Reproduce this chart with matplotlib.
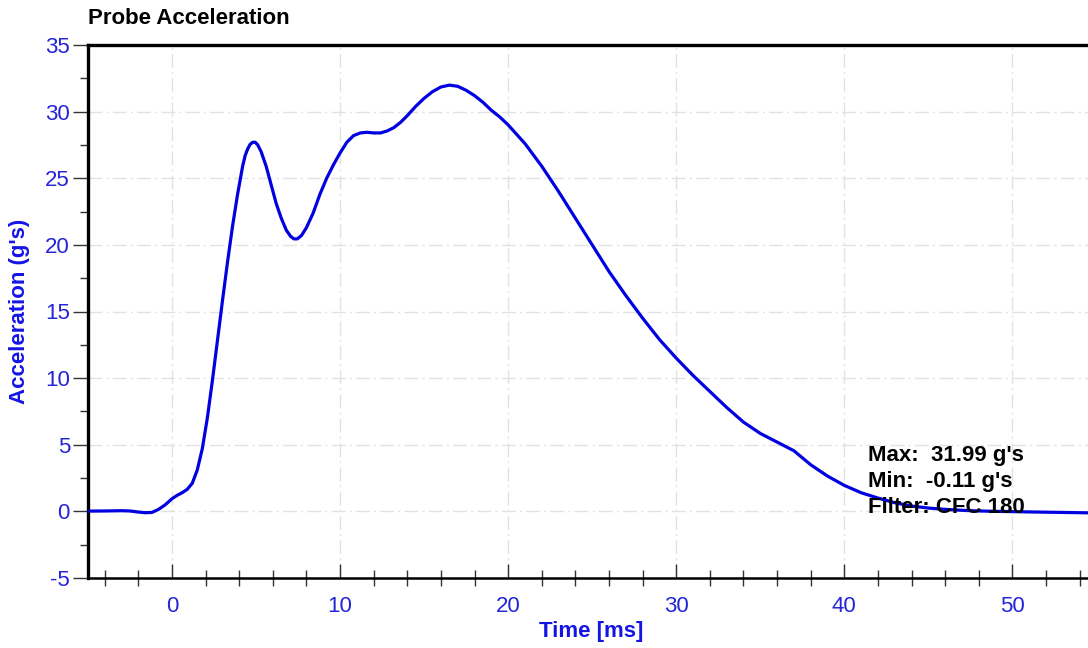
import matplotlib
matplotlib.use("Agg")
import matplotlib.pyplot as plt
from matplotlib.ticker import MultipleLocator

plt.rcParams['font.family'] = ['Liberation Sans', 'DejaVu Sans']
plt.rcParams['axes.unicode_minus'] = False

time_ms = [-5, -4, -3, -2.5, -2, -1.6, -1.2, -0.8, -0.4, 0, 0.3, 0.6, 0.9, 1.2, 1.5,
           1.8, 2.1, 2.4, 2.7, 3.0, 3.3, 3.6, 3.9, 4.2, 4.35, 4.5, 4.65, 4.8, 4.95,
           5.1, 5.3, 5.6, 5.9, 6.2, 6.5, 6.8, 7.05, 7.25, 7.45, 7.7, 8.0, 8.4, 8.8,
           9.2, 9.6, 10.0, 10.4, 10.8, 11.2, 11.6, 12.0, 12.4, 12.8, 13.2, 13.6,
           14.0, 14.5, 15.0, 15.5, 16.0, 16.5, 17.0, 17.5, 18.0, 18.5, 19.0, 19.5,
           20.0, 21, 22, 23, 24, 25, 26, 27, 28, 29, 30, 31, 32, 33, 34, 35, 36, 37,
           38, 39, 40, 41, 42, 43, 44, 45, 46, 47, 48, 50, 52, 54.5]
accel_g = [0.02, 0.03, 0.05, 0.03, -0.05, -0.1, -0.08, 0.15, 0.5, 0.95, 1.2, 1.4,
           1.65, 2.1, 3.1, 4.7, 7.0, 9.8, 12.8, 15.8, 18.7, 21.4, 23.8, 25.9, 26.7,
           27.2, 27.55, 27.7, 27.7, 27.5, 27.0, 25.9, 24.5, 23.1, 22.0, 21.1, 20.65,
           20.45, 20.45, 20.7, 21.3, 22.4, 23.8, 25.0, 26.0, 26.9, 27.7, 28.2, 28.4,
           28.45, 28.4, 28.4, 28.55, 28.8, 29.2, 29.7, 30.4, 31.0, 31.5, 31.85, 31.99,
           31.9, 31.6, 31.2, 30.7, 30.1, 29.6, 29.0, 27.6, 25.9, 24.0, 22.0, 20.0,
           18.0, 16.2, 14.5, 12.9, 11.5, 10.2, 9.0, 7.8, 6.7, 5.85, 5.2, 4.55, 3.5, 2.65,
           1.95, 1.4, 1.0, 0.65, 0.4, 0.25, 0.15, 0.08, 0.03, -0.02, -0.06, -0.11]

title = "Probe Acceleration"
x_label = "Time [ms]"
y_label = "Acceleration (g's)"
stats_text = "Max:  31.99 g's\nMin:  -0.11 g's\nFilter: CFC 180"

tick_blue = '#2424d8'
label_blue = '#1414e6'
line_blue = '#0000e0'

fig = plt.figure(figsize=(10.88, 6.48), dpi=100)
ax = fig.add_axes([88/1088, 1-578/648, 1000/1088, 533/648])

ax.plot(time_ms, accel_g, color=line_blue, lw=2.3, solid_capstyle='round',
        solid_joinstyle='round', zorder=3)

ax.set_xlim(-5, 54.5)
ax.set_ylim(-5, 35)

ax.xaxis.set_major_locator(MultipleLocator(10))
ax.xaxis.set_minor_locator(MultipleLocator(2))
ax.yaxis.set_major_locator(MultipleLocator(5))
ax.yaxis.set_minor_locator(MultipleLocator(2.5))

ax.grid(True, which='major', color='#e2e2e2', lw=1.0, linestyle=(0, (10, 3, 1.5, 3)), zorder=0)

for side in ['left', 'top']:
    ax.spines[side].set_linewidth(2.4)
ax.spines['bottom'].set_linewidth(1.8)
ax.spines['right'].set_visible(False)

ax.tick_params(axis='x', which='major', direction='in', length=10, width=1.0,
               color='#333333', labelsize=16, labelcolor=tick_blue, pad=13)
ax.tick_params(axis='x', which='minor', direction='inout', length=11, width=1.0,
               color='#333333')
ax.tick_params(axis='y', which='major', direction='out', length=11, width=1.0,
               color='#333333', labelsize=16, labelcolor=tick_blue, pad=2)
ax.tick_params(axis='y', which='minor', direction='out', length=6, width=1.0,
               color='#333333')

ax.set_xlabel(x_label, fontsize=16, fontweight='bold', color=label_blue)
ax.xaxis.set_label_coords(0.503, -0.101)
ax.xaxis.label.set_va('center')
ax.set_ylabel(y_label, fontsize=16, fontweight='bold', color=label_blue)
ax.yaxis.set_label_coords(-0.068, 0.5)
ax.yaxis.label.set_va('center')

fig.text(88/1088, 1-18/648, title, fontsize=16, fontweight='bold', color='black',
         ha='left', va='center')

ax.text(41.4, 4.95, stats_text, fontsize=16, fontweight='bold', color='black',
        ha='left', va='top', linespacing=1.3, zorder=4)

fig.savefig('out.png', dpi=100)
